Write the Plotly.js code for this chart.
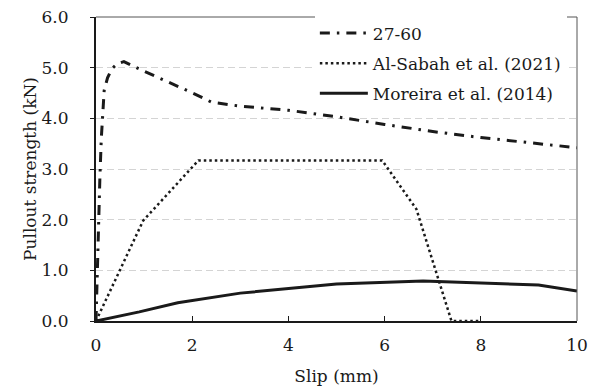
<!DOCTYPE html>
<html>
<head>
<meta charset="utf-8">
<script src="https://cdn.plot.ly/plotly-3.0.1.min.js"></script>
<style>html,body{margin:0;padding:0;background:#fff;}#chart{width:597px;height:386px;}</style>
</head>
<body>
<div id="chart"></div>
<script>
// ---- data ----
var seriesNames = ["27-60", "Al-Sabah et al. (2021)", "Moreira et al. (2014)"];

var slip2760 = [0, 0.02, 0.05, 0.08, 0.11, 0.14, 0.17, 0.24, 0.33, 0.45, 0.58, 1.0, 1.5, 2.1, 2.4, 3.0, 4.0, 5.0, 6.0, 7.0, 8.0, 9.0, 10.0];
var force2760 = [0, 0.8, 1.8, 2.8, 3.6, 4.2, 4.55, 4.8, 4.98, 5.08, 5.12, 4.93, 4.72, 4.46, 4.32, 4.24, 4.16, 4.03, 3.88, 3.74, 3.62, 3.52, 3.42];

var slipAlSabah = [0, 0.98, 2.13, 5.95, 6.66, 7.39, 7.95];
var forceAlSabah = [0, 1.98, 3.17, 3.17, 2.21, 0, 0];

var slipMoreira = [0, 0.9, 1.7, 3.0, 5.0, 6.8, 9.2, 10];
var forceMoreira = [0, 0.18, 0.36, 0.55, 0.73, 0.79, 0.71, 0.59];

var xTickVals = [0, 2, 4, 6, 8, 10];
var yTickVals = [0, 1, 2, 3, 4, 5, 6];

var FONT = "DejaVu Serif";
var INK = "#1a1a1a";
var FS = 17;

var traces = [
  {x: slip2760, y: force2760, name: seriesNames[0], mode: "lines", legendgroup: "a",
   line: {color: INK, width: 3, dash: "10px,7px,2.5px,7px"}},
  {x: slipAlSabah, y: forceAlSabah, name: seriesNames[1], mode: "lines", legendgroup: "b",
   line: {color: INK, width: 2.5, dash: "2.5px,3px"}},
  {x: slipMoreira, y: forceMoreira, name: seriesNames[2], mode: "lines", legendgroup: "c",
   line: {color: INK, width: 3}}
];

var layout = {
  width: 597, height: 386,
  margin: {l: 96, r: 20, t: 17, b: 65},
  paper_bgcolor: "#fff", plot_bgcolor: "#fff",
  font: {family: FONT, size: FS, color: INK},
  showlegend: true,
  legend: {
    x: 0.455, y: 1.005, xanchor: "left", yanchor: "top",
    bgcolor: "#fff", borderwidth: 0,
    font: {family: FONT, size: FS, color: INK},
    itemwidth: 48, tracegroupgap: 5
  },
  xaxis: {
    range: [0, 10], tickvals: xTickVals, ticktext: xTickVals.map(String),
    showgrid: false, zeroline: false,
    showline: true, linecolor: INK, linewidth: 2,
    ticks: "inside", ticklen: 5, tickwidth: 1, tickcolor: INK,
    ticklabelstandoff: 8,
    tickfont: {family: FONT, size: FS, color: INK},
    title: {text: "Slip (mm)", font: {family: FONT, size: FS, color: INK}}
  },
  yaxis: {
    range: [0, 6], tickvals: yTickVals, ticktext: yTickVals.map(function(v){return v.toFixed(1);}),
    showgrid: true, gridcolor: "#d4d4d4", gridwidth: 1, griddash: "7px,4px",
    zeroline: false,
    showline: true, linecolor: INK, linewidth: 2,
    ticks: "outside", ticklen: 4, tickwidth: 1, tickcolor: INK,
    ticklabelstandoff: 18,
    tickfont: {family: FONT, size: FS, color: INK},
    title: {text: "Pullout strength (kN)", font: {family: FONT, size: FS, color: INK}}
  },
  shapes: [
    {type: "line", xref: "paper", yref: "paper", x0: 0, x1: 1, y0: 1, y1: 1, line: {color: "#555", width: 1}},
    {type: "line", xref: "paper", yref: "paper", x0: 1, x1: 1, y0: 0, y1: 1, line: {color: "#555", width: 1}}
  ]
};

Plotly.newPlot("chart", traces, layout, {staticPlot: true, displayModeBar: false});
</script>
</body>
</html>
